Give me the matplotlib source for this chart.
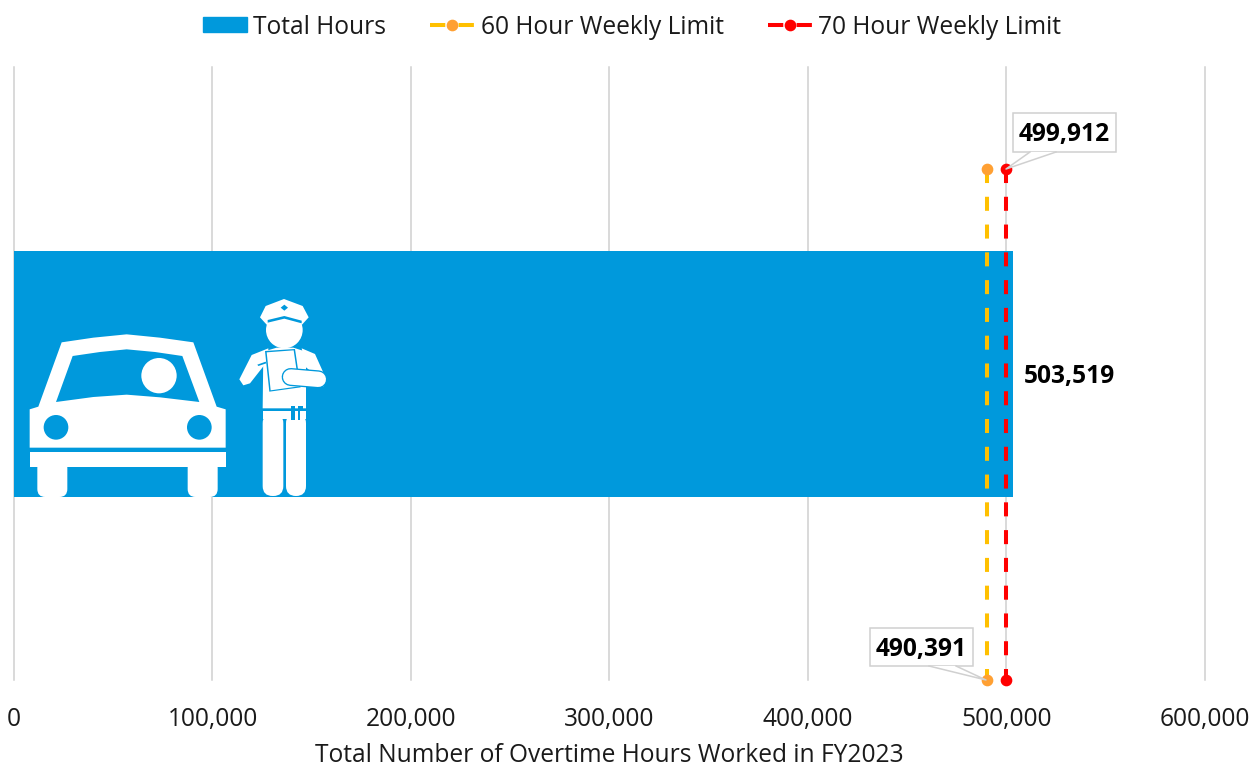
import matplotlib
matplotlib.use('Agg')
import matplotlib.pyplot as plt
from matplotlib.lines import Line2D
from matplotlib.patches import Patch, Polygon, Circle, FancyBboxPatch, Rectangle

total_hours = 503519
limit_60 = 490391
limit_70 = 499912
limit_y = [0.833, 0]
bar_y = 0.499
xticks = [0, 100000, 200000, 300000, 400000, 500000, 600000]
xlabel = 'Total Number of Overtime Hours Worked in FY2023'
legend_labels = ['Total Hours', '60 Hour Weekly Limit', '70 Hour Weekly Limit']

blue = '#0099DC'
gold = '#FFC000'
orange = '#FFA033'
red = '#FF0000'
grey = '#D0D0D0'
ink = '#1A1A1A'

W, H = 1252, 767
plt.rcParams['font.family'] = ['Open Sans', 'DejaVu Sans']
plt.rcParams['font.size'] = 17.65
plt.rcParams['lines.scale_dashes'] = False

fig = plt.figure(figsize=(W / 100, H / 100), dpi=100)
ax = fig.add_axes([14 / W, (H - 680) / H, (1205 - 14) / W, (680 - 67) / H])

ax.barh([bar_y], [total_hours], height=0.401, color=blue, zorder=2)
dash = (0, (10.1, 9.9))
ax.plot([limit_60, limit_60], limit_y, color=gold, lw=2.9, ls=dash, zorder=3, clip_on=False)
ax.plot([limit_70, limit_70], limit_y, color=red, lw=2.9, ls=dash, zorder=3, clip_on=False)
ax.plot([limit_60, limit_60], limit_y, ls='', marker='o', ms=7.4, mfc=orange, mec=orange, zorder=4, clip_on=False)
ax.plot([limit_70, limit_70], limit_y, ls='', marker='o', ms=7.4, mfc=red, mec=red, zorder=4, clip_on=False)

ax.set_xlim(0, 600000)
ax.set_ylim(0, 1)
ax.set_xticks(xticks)
ax.set_xticklabels([f'{t:,}' for t in xticks], color=ink)
ax.set_yticks([])
ax.tick_params(axis='x', length=0, pad=19.5)
ax.grid(axis='x', color=grey, lw=1.1, zorder=1, clip_on=False)
ax.set_axisbelow(True)
for s in ax.spines.values():
    s.set_visible(False)
ax.set_xlabel(xlabel, color=ink, labelpad=7.5)

ax.annotate(f'{total_hours:,}', (total_hours, bar_y), xytext=(7.5, -1.5), textcoords='offset points',
            va='center', ha='left', fontweight='bold', color='black')

legend_dash = (0, (11, 9.6))
handles = [
    Patch(color=blue),
    Line2D([], [], color=gold, lw=2.9, ls=legend_dash, marker='o', ms=7.4, mfc=orange, mec=orange),
    Line2D([], [], color=red, lw=2.9, ls=legend_dash, marker='o', ms=7.4, mfc=red, mec=red),
]
fig.legend(handles, legend_labels, ncols=3, frameon=False, loc='center', bbox_to_anchor=(632 / W, (H - 27) / H),
           handlelength=1.8, handleheight=0.55, handletextpad=0.25, columnspacing=1.8, labelcolor=ink,
           borderpad=0, borderaxespad=0)

# overlay in pixel coordinates, for the icons and the callouts
ov = fig.add_axes([0, 0, 1, 1], zorder=10)
ov.set_xlim(0, W)
ov.set_ylim(H, 0)
ov.axis('off')


def z(x, y):
    # positions measured on a 3x crop starting at (0, 280)
    return (x / 3, 280 + y / 3)


def poly(points, color='white', **kw):
    ov.add_patch(Polygon([z(*p) for p in points], closed=True, fc=color, ec='none', **kw))


def circle(x, y, r, color='white'):
    ov.add_patch(Circle(z(x, y), r / 3, fc=color, ec='none'))


def pill(x0, y0, x1, y1, rad=30):
    ax0, ay0 = z(x0, y0)
    ax1, ay1 = z(x1, y1)
    r = rad / 3
    ov.add_patch(FancyBboxPatch((ax0 + r, ay0 + r), ax1 - ax0 - 2 * r, ay1 - ay0 - 2 * r,
                                boxstyle=f'round,pad={r},rounding_size={r}', fc='white', ec='none'))


def stroke(p0, p1, width, color='white'):
    a, b = z(*p0), z(*p1)
    ov.plot([a[0], b[0]], [a[1], b[1]], color=color, lw=width / 3 * 0.72, solid_capstyle='round')


# car
poly([(185, 187), (280, 173), (380, 163), (480, 173), (580, 187), (650, 380), (677, 388), (677, 503),
      (89, 503), (89, 388), (115, 380)])
poly([(218, 228), (300, 216), (380, 208), (465, 216), (547, 228), (598, 366), (480, 352), (380, 344),
      (280, 351), (168, 366)], color=blue)
circle(477, 287, 53)
circle(168, 442, 37, blue)
circle(598, 442, 37, blue)
poly([(89, 517), (677, 517), (677, 562), (89, 562)])
pill(112, 540, 202, 651, 24)
pill(563, 540, 653, 651, 24)

# officer
circle(853, 150, 55)
poly([(780, 112), (797, 78), (852, 57), (908, 78), (926, 112), (906, 134), (853, 118), (800, 134)])
poly([(803, 120), (853, 108), (905, 122), (905, 130), (853, 116), (803, 128)], color=blue)
poly([(842, 83), (853, 74), (864, 83), (853, 92)], color=blue)
poly([(790, 215), (830, 203), (880, 203), (918, 215), (918, 385), (788, 385)])
poly([(805, 205), (805, 240), (750, 310), (730, 316), (718, 298), (755, 225)])
poly([(772, 254), (797, 245), (799, 250), (775, 258)], color=blue)
poly([(795, 213), (885, 207), (902, 322), (808, 335)], color=blue)
poly([(800, 217), (881, 211), (897, 319), (812, 331)])
stroke((872, 291), (955, 298), 54, blue)
stroke((872, 291), (955, 298), 46)
poly([(905, 205), (945, 222), (980, 300), (970, 320), (935, 318), (930, 272), (918, 262)])
poly([(788, 393), (918, 393), (918, 418), (788, 418)])
pill(788, 400, 850, 648, 30)
pill(858, 400, 918, 648, 30)
poly([(873, 378), (884, 378), (884, 421), (873, 421)], color=blue)
poly([(893, 378), (908, 378), (908, 393), (899, 393), (899, 421), (893, 421)], color=blue)


def callout(value, box, base, tip):
    x0, y0, x1, y1 = box
    ov.add_patch(Rectangle((x0, y0), x1 - x0, y1 - y0, fc='white', ec=grey, lw=1.1))
    ov.add_patch(Polygon([base[0], base[1], tip], closed=True, fc='white', ec='none'))
    ov.plot([base[0][0], tip[0], base[1][0]], [base[0][1], tip[1], base[1][1]], color=grey, lw=1.1)
    ov.text((x0 + x1) / 2, (y0 + y1) / 2 + 2.5, f'{value:,}', ha='center', va='center', fontweight='bold', color='black')


callout(limit_70, (1013, 113, 1116, 152), ((1030, 152), (1056, 152)), (1006, 169))
callout(limit_60, (870, 628, 973, 666), ((929, 666), (956, 666)), (986, 680))

fig.savefig('out.png', dpi=100)
